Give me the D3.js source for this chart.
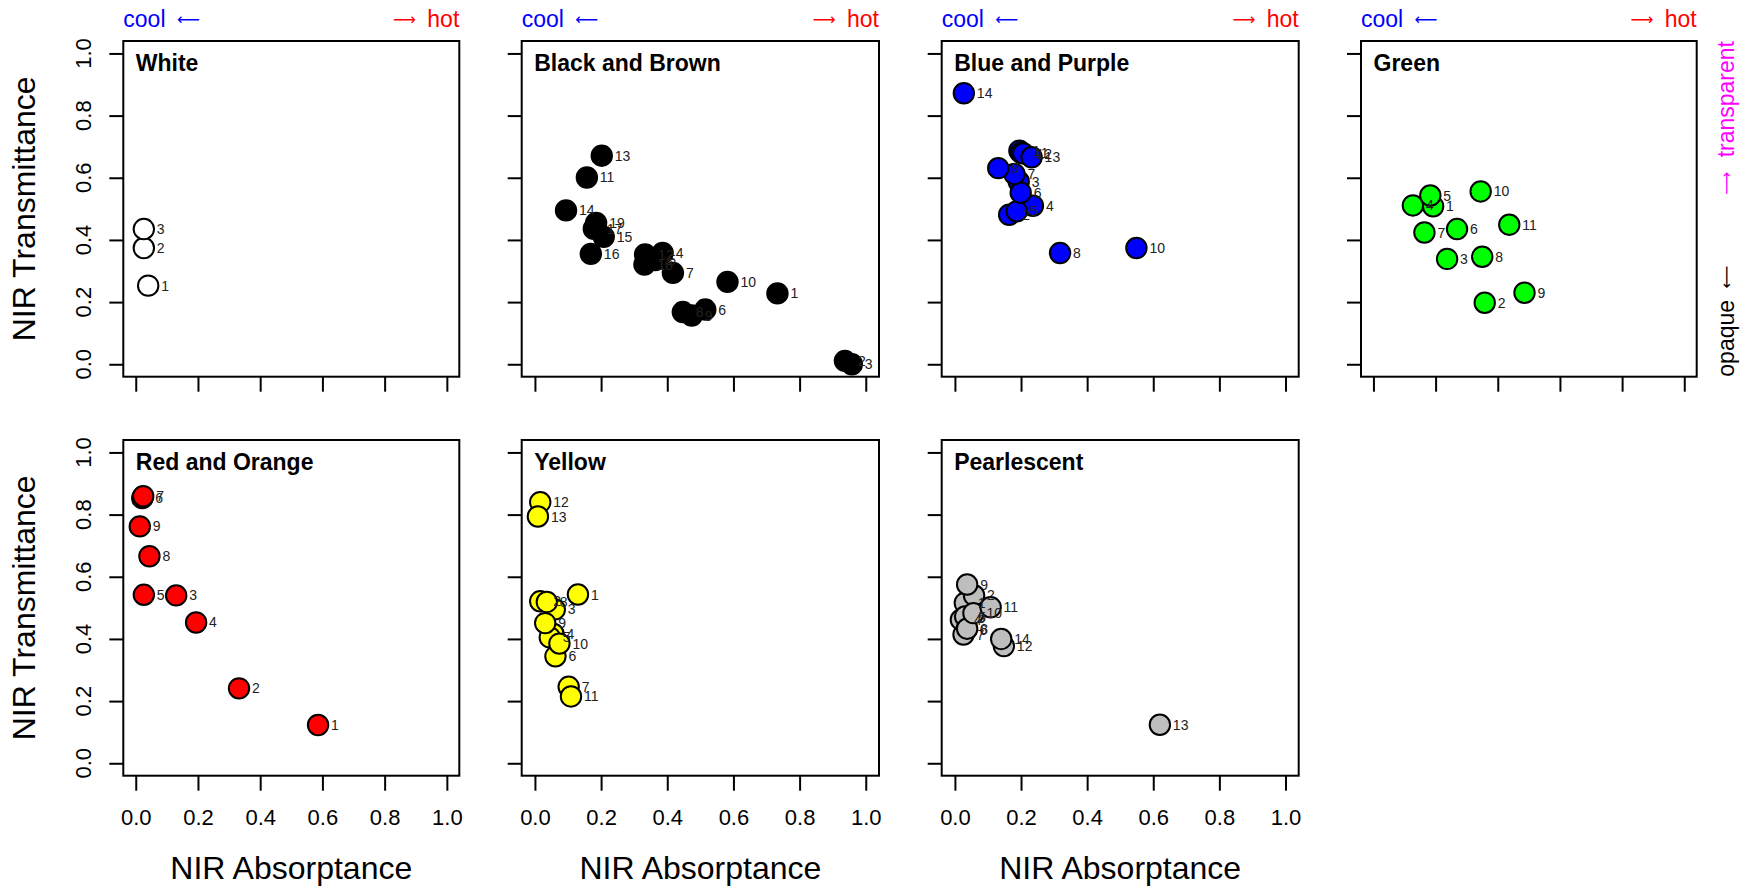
<!DOCTYPE html>
<html><head><meta charset="utf-8">
<script src="https://cdn.jsdelivr.net/npm/d3@7"></script>
<style>
body{margin:0;background:#fff}
svg{display:block}
text{font-family:"Liberation Sans", Arial, Helvetica, sans-serif}
</style>
</head><body>
<svg id="chart" width="1748" height="893"></svg>
<script>
// ---------- data ----------
const panelNames = ["White", "Black and Brown", "Blue and Purple", "Green", "Red and Orange", "Yellow", "Pearlescent"];
const panelFills = ["#FFFFFF", "#000000", "#0000FF", "#00FF00", "#FF0000", "#FFFF00", "#BEBEBE"];

const whiteAbs   = [0.040, 0.026, 0.026];
const whiteTrans = [0.253, 0.374, 0.435];

const blackAbs   = [0.733, 0.937, 0.958, 0.386, 0.364, 0.515, 0.417, 0.447, 0.474, 0.582, 0.157, 0.333, 0.202, 0.094, 0.208, 0.169, 0.178, 0.331, 0.185];
const blackTrans = [0.228, 0.011, 0.000, 0.358, 0.335, 0.176, 0.294, 0.168, 0.157, 0.265, 0.601, 0.353, 0.671, 0.495, 0.410, 0.355, 0.436, 0.321, 0.455];

const blueAbs    = [0.195, 0.164, 0.193, 0.236, 0.187, 0.199, 0.180, 0.318, 0.131, 0.549, 0.200, 0.207, 0.232, 0.027];
const blueTrans  = [0.687, 0.481, 0.588, 0.510, 0.492, 0.552, 0.612, 0.358, 0.631, 0.374, 0.680, 0.678, 0.666, 0.872];

const greenAbs   = [0.192, 0.358, 0.237, 0.127, 0.183, 0.269, 0.164, 0.350, 0.486, 0.345, 0.437];
const greenTrans = [0.508, 0.198, 0.339, 0.511, 0.543, 0.435, 0.424, 0.346, 0.230, 0.556, 0.449];

const redAbs     = [0.586, 0.332, 0.130, 0.194, 0.026, 0.021, 0.024, 0.044, 0.013];
const redTrans   = [0.123, 0.241, 0.540, 0.453, 0.542, 0.853, 0.859, 0.666, 0.762];

const yellowAbs  = [0.130, 0.016, 0.060, 0.056, 0.045, 0.062, 0.102, 0.036, 0.031, 0.074, 0.109, 0.016, 0.009];
const yellowTrans= [0.543, 0.521, 0.495, 0.416, 0.405, 0.344, 0.246, 0.519, 0.451, 0.385, 0.215, 0.840, 0.794];

const pearlAbs   = [0.030, 0.058, 0.029, 0.018, 0.031, 0.035, 0.026, 0.037, 0.037, 0.056, 0.108, 0.148, 0.620, 0.140];
const pearlTrans = [0.516, 0.540, 0.469, 0.462, 0.472, 0.430, 0.414, 0.433, 0.575, 0.483, 0.502, 0.377, 0.124, 0.400];

const tickValues = [0, 0.2, 0.4, 0.6, 0.8, 1.0];
const tickLabels = ["0.0", "0.2", "0.4", "0.6", "0.8", "1.0"];
const xTitle = "NIR Absorptance";
const yTitle = "NIR Transmittance";
const leftArrow = "\u27F5", rightArrow = "\u27F6";
const coolWord = "cool", hotWord = "hot";
const transparentWord = "transparent", opaqueWord = "opaque";

const panelAbs = [whiteAbs, blackAbs, blueAbs, greenAbs, redAbs, yellowAbs, pearlAbs];
const panelTrans = [whiteTrans, blackTrans, blueTrans, greenTrans, redTrans, yellowTrans, pearlTrans];

// ---------- layout ----------
const boxLeft  = [123.3, 521.7, 941.7, 1361, 123.3, 521.7, 941.7];
const boxRight = [459.3, 879, 1298.7, 1696.7, 459.3, 879, 1298.7];
const rowTop = [41, 440], rowBottom = [376.7, 775.7];
const domain = [-0.04, 1.04];
const arrowFont = '"DejaVu Sans", sans-serif';
const arrowSize = "16px";
const arrowLift = -2.5;

const svg = d3.select("#chart");
svg.append("rect").attr("width", 1748).attr("height", 893).attr("fill", "#fff");

panelNames.forEach((name, p) => {
  const row = p < 4 ? 0 : 1;
  const L = boxLeft[p], R = boxRight[p], T = rowTop[row], B = rowBottom[row];
  const x = d3.scaleLinear().domain(domain).range([L, R]);
  const y = d3.scaleLinear().domain(domain).range([B, T]);
  const g = svg.append("g");

  // x ticks
  const xa = g.append("g").attr("transform", `translate(0,${B})`)
    .call(d3.axisBottom(x).tickValues(tickValues).tickSize(15).tickSizeOuter(0)
      .tickFormat((d, i) => row === 1 ? tickLabels[i] : ""));
  xa.select(".domain").remove();
  xa.selectAll("line").attr("stroke", "#000").attr("stroke-width", 2);
  xa.selectAll("text").attr("y", 49.3).attr("dy", 0).attr("fill", "#000")
    .style("font-size", "22px").style("font-family", '"Liberation Sans", Arial, sans-serif');

  // y ticks
  const ya = g.append("g").attr("transform", `translate(${L},0)`)
    .call(d3.axisLeft(y).tickValues(tickValues).tickSize(14).tickSizeOuter(0).tickFormat(""));
  ya.select(".domain").remove();
  ya.selectAll("line").attr("stroke", "#000").attr("stroke-width", 2);

  if (p === 0 || p === 4) {
    g.selectAll("text.ylab").data(tickValues).enter().append("text")
      .attr("class", "ylab")
      .attr("transform", d => `translate(90.7,${y(d)}) rotate(-90)`)
      .attr("text-anchor", "middle").style("font-size", "22px")
      .text((d, i) => tickLabels[i]);
    g.append("text")
      .attr("transform", `translate(34.5,${(T + B) / 2}) rotate(-90)`)
      .attr("text-anchor", "middle").style("font-size", "32px").text(yTitle);
  }
  if (row === 1) {
    g.append("text").attr("x", (L + R) / 2).attr("y", 879)
      .attr("text-anchor", "middle").style("font-size", "32px").text(xTitle);
  }
  if (row === 0) {
    const c = g.append("text").attr("x", L).attr("y", 27).attr("fill", "#0000FF")
      .style("font-size", "23px");
    c.append("tspan").text(coolWord + " ");
    c.append("tspan").attr("dx", 5).attr("dy", arrowLift).style("font-family", arrowFont).style("font-size", arrowSize).text(leftArrow);
    const h = g.append("text").attr("x", R).attr("y", 27).attr("fill", "#FF0000")
      .attr("text-anchor", "end").style("font-size", "23px");
    h.append("tspan").attr("dy", arrowLift).style("font-family", arrowFont).style("font-size", arrowSize).text(rightArrow);
    h.append("tspan").attr("dx", 5).attr("dy", -arrowLift).text(" " + hotWord);
  }
  if (p === 3) {
    const t = g.append("text").attr("transform", `translate(1734,${T}) rotate(-90)`)
      .attr("text-anchor", "end").attr("fill", "#FF00FF").style("font-size", "23px");
    t.append("tspan").attr("dy", arrowLift).style("font-family", arrowFont).style("font-size", arrowSize).text(rightArrow);
    t.append("tspan").attr("dx", 8).attr("dy", -arrowLift).text(" " + transparentWord);
    const o = g.append("text").attr("transform", `translate(1734,${B}) rotate(-90)`)
      .attr("text-anchor", "start").attr("fill", "#000").style("font-size", "23px");
    o.append("tspan").text(opaqueWord + " ");
    o.append("tspan").attr("dx", 5).attr("dy", arrowLift).style("font-family", arrowFont).style("font-size", arrowSize).text(leftArrow);
  }

  // box
  g.append("rect").attr("x", L).attr("y", T).attr("width", R - L).attr("height", B - T)
    .attr("fill", "none").attr("stroke", "#000").attr("stroke-width", 2);

  // title
  g.append("text").attr("x", L + 12.5).attr("y", T + 30)
    .style("font-size", "23px").style("font-weight", "bold").text(name);

  const abs = panelAbs[p], tr = panelTrans[p];
  const idx = d3.range(abs.length);
  g.selectAll("circle.pt").data(idx).enter().append("circle")
    .attr("class", "pt")
    .attr("cx", i => x(abs[i])).attr("cy", i => y(tr[i])).attr("r", 10.2)
    .attr("fill", panelFills[p]).attr("stroke", "#000").attr("stroke-width", 2);
  g.selectAll("text.pl").data(idx).enter().append("text")
    .attr("class", "pl")
    .attr("x", i => x(abs[i]) + 13).attr("y", i => y(tr[i])).attr("dy", "0.36em")
    .attr("fill", "#222").style("font-size", "14px")
    .text(i => String(i + 1));
});
</script>
</body></html>
